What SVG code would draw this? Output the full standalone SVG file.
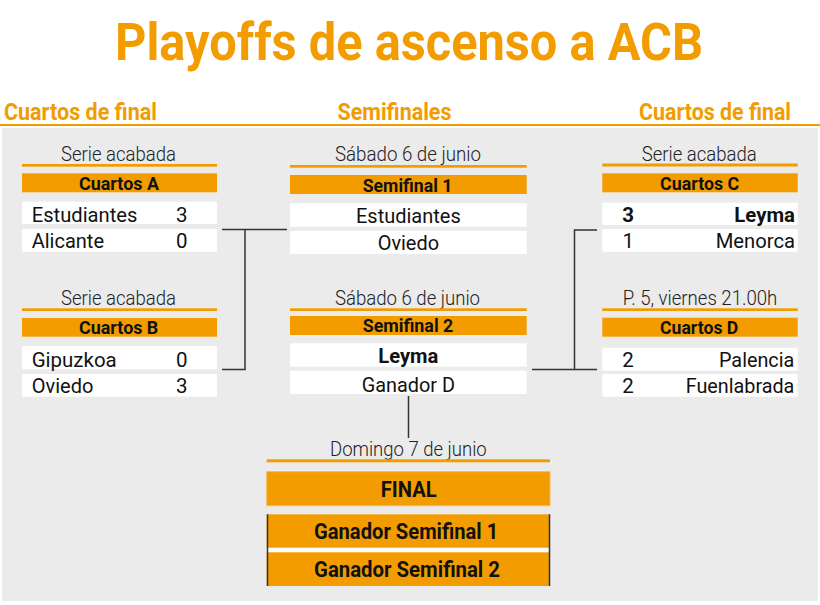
<svg xmlns="http://www.w3.org/2000/svg" width="820" height="605" viewBox="0 0 820 605">
<style>
text{font-family:Roboto,"Liberation Sans",sans-serif;}
.title{font-size:51px;font-weight:700;fill:#F39C00;}
.hdr{font-size:23.5px;font-weight:700;fill:#F39C00;}
.lbl{font-size:21px;font-weight:300;fill:#222;}
.bar{fill:#F39C00;}
.bt{font-size:18.5px;font-weight:700;fill:#111;}
.row{fill:#FFFFFF;}
.rt{font-size:20.5px;font-weight:400;fill:#111;}
.rb{font-size:20.5px;font-weight:700;fill:#111;}
.ft{font-size:22px;font-weight:700;fill:#111;}
.con{fill:none;stroke:#333;stroke-width:1.5;}
</style>
<rect x="0" y="0" width="820" height="605" fill="#FFFFFF"/>
<text class="title" x="115" y="59.5" textLength="588" lengthAdjust="spacingAndGlyphs">Playoffs de ascenso a ACB</text>
<g id="headers">
<text class="hdr" x="4" y="120" textLength="153" lengthAdjust="spacingAndGlyphs">Cuartos de final</text>
<text class="hdr" x="337.5" y="120" textLength="114" lengthAdjust="spacingAndGlyphs">Semifinales</text>
<text class="hdr" x="639" y="120" textLength="152" lengthAdjust="spacingAndGlyphs">Cuartos de final</text>
<rect x="0" y="124" width="820" height="2" fill="#F39C00"/>
</g>
<rect x="2" y="128" width="816" height="473" fill="#EBEBEB"/>

<g id="connectors">
<path class="con" d="M222,229.5 H287 M245,229.5 V369.5 H222"/>
<path class="con" d="M597,230 H574.5 V369.5 M532,369.5 H597"/>
<path class="con" d="M408.5,396 V438"/>
</g>

<g id="cuartos-a">
<text class="lbl" x="61" y="160.5" textLength="115" lengthAdjust="spacingAndGlyphs">Serie acabada</text>
<rect class="bar" x="22" y="164" width="195" height="2.7"/>
<rect class="bar" x="22" y="173.3" width="195" height="19"/>
<text class="bt" x="79" y="190" textLength="80" lengthAdjust="spacingAndGlyphs">Cuartos A</text>
<rect class="row" x="22" y="201.7" width="195" height="22.3"/>
<rect class="row" x="22" y="229" width="195" height="22.7"/>
<text class="rt" x="31.7" y="222.3" textLength="105.7" lengthAdjust="spacingAndGlyphs">Estudiantes</text>
<text class="rt" x="176" y="222.3">3</text>
<text class="rt" x="31.7" y="248.3" textLength="72.3" lengthAdjust="spacingAndGlyphs">Alicante</text>
<text class="rt" x="176" y="248.3">0</text>
</g>

<g id="cuartos-b">
<text class="lbl" x="61" y="305" textLength="115" lengthAdjust="spacingAndGlyphs">Serie acabada</text>
<rect class="bar" x="22" y="308.3" width="195" height="2.7"/>
<rect class="bar" x="22" y="318" width="195" height="18.7"/>
<text class="bt" x="79" y="334" textLength="79.3" lengthAdjust="spacingAndGlyphs">Cuartos B</text>
<rect class="row" x="22" y="346" width="195" height="23.3"/>
<rect class="row" x="22" y="374" width="195" height="22.7"/>
<text class="rt" x="31.7" y="367.3" textLength="85" lengthAdjust="spacingAndGlyphs">Gipuzkoa</text>
<text class="rt" x="176" y="367.3">0</text>
<text class="rt" x="31.7" y="393.3" textLength="61.7" lengthAdjust="spacingAndGlyphs">Oviedo</text>
<text class="rt" x="176" y="393.3">3</text>
</g>

<g id="semifinal-1">
<text class="lbl" x="335" y="161" textLength="146" lengthAdjust="spacingAndGlyphs">Sábado 6 de junio</text>
<rect class="bar" x="290" y="165" width="236.7" height="2.7"/>
<rect class="bar" x="290" y="175" width="236.7" height="19"/>
<text class="bt" x="362.7" y="191.5" textLength="89.7" lengthAdjust="spacingAndGlyphs">Semifinal 1</text>
<rect class="row" x="290" y="203.3" width="236.7" height="23.4"/>
<rect class="row" x="290" y="231" width="236.7" height="23"/>
<text class="rt" x="356" y="223.3" textLength="104.7" lengthAdjust="spacingAndGlyphs">Estudiantes</text>
<text class="rt" x="377.7" y="250" textLength="61.3" lengthAdjust="spacingAndGlyphs">Oviedo</text>
</g>

<g id="semifinal-2">
<text class="lbl" x="335" y="305" textLength="145" lengthAdjust="spacingAndGlyphs">Sábado 6 de junio</text>
<rect class="bar" x="290" y="308.3" width="236.7" height="2.7"/>
<rect class="bar" x="290" y="316" width="236.7" height="19"/>
<text class="bt" x="362.7" y="332.3" textLength="90.6" lengthAdjust="spacingAndGlyphs">Semifinal 2</text>
<rect class="row" x="290" y="343.3" width="236.7" height="23.4"/>
<rect class="row" x="290" y="370.7" width="236.7" height="23.3"/>
<text class="rb" x="378.3" y="363.3" textLength="60" lengthAdjust="spacingAndGlyphs">Leyma</text>
<text class="rt" x="361.7" y="391.7" textLength="93.3" lengthAdjust="spacingAndGlyphs">Ganador D</text>
</g>

<g id="cuartos-c">
<text class="lbl" x="641.7" y="160.5" textLength="115" lengthAdjust="spacingAndGlyphs">Serie acabada</text>
<rect class="bar" x="602.3" y="163.5" width="195.4" height="3"/>
<rect class="bar" x="602.3" y="173.3" width="195.4" height="19"/>
<text class="bt" x="660" y="190" textLength="79.3" lengthAdjust="spacingAndGlyphs">Cuartos C</text>
<rect class="row" x="602.3" y="202.7" width="195.4" height="22.3"/>
<rect class="row" x="602.3" y="229" width="195.4" height="22.7"/>
<text class="rb" x="622.3" y="222.3">3</text>
<text class="rb" x="734.3" y="222.3" textLength="60.7" lengthAdjust="spacingAndGlyphs">Leyma</text>
<text class="rt" x="622.5" y="248.3">1</text>
<text class="rt" x="715.7" y="248.3" textLength="79.3" lengthAdjust="spacingAndGlyphs">Menorca</text>
</g>

<g id="cuartos-d">
<text class="lbl" x="622.7" y="305" textLength="154.6" lengthAdjust="spacingAndGlyphs">P. 5, viernes 21.00h</text>
<rect class="bar" x="602.3" y="308.3" width="195.4" height="2.7"/>
<rect class="bar" x="602.3" y="317.7" width="195.4" height="19"/>
<text class="bt" x="660" y="334" textLength="78.3" lengthAdjust="spacingAndGlyphs">Cuartos D</text>
<rect class="row" x="602.3" y="347.7" width="195.4" height="23"/>
<rect class="row" x="602.3" y="374" width="195.4" height="22.7"/>
<text class="rt" x="622.3" y="367.3">2</text>
<text class="rt" x="719" y="367.3" textLength="75.3" lengthAdjust="spacingAndGlyphs">Palencia</text>
<text class="rt" x="622.3" y="393.3">2</text>
<text class="rt" x="685.7" y="393.3" textLength="108.7" lengthAdjust="spacingAndGlyphs">Fuenlabrada</text>
</g>

<g id="final">
<text class="lbl" x="330" y="456" textLength="156.7" lengthAdjust="spacingAndGlyphs">Domingo 7 de junio</text>
<rect class="bar" x="266.7" y="459.3" width="283.3" height="3"/>
<rect class="bar" x="266.7" y="471.7" width="283.3" height="34" stroke="#F6B75A" stroke-width="1"/>
<text class="ft" x="380.7" y="497.3" textLength="56" lengthAdjust="spacingAndGlyphs">FINAL</text>
<rect x="266.7" y="514.3" width="283.3" height="71.7" fill="#FFFFFF"/>
<rect class="bar" x="266.7" y="514.3" width="283.3" height="33.4"/>
<rect class="bar" x="266.7" y="552.3" width="283.3" height="33.7"/>
<path d="M267.5,514.3 V586 M549.5,514.3 V586" stroke="#333" stroke-width="1.5" fill="none"/>
<text class="ft" x="314" y="539.3" textLength="184.3" lengthAdjust="spacingAndGlyphs">Ganador Semifinal 1</text>
<text class="ft" x="314" y="577.3" textLength="186" lengthAdjust="spacingAndGlyphs">Ganador Semifinal 2</text>
</g>
</svg>
